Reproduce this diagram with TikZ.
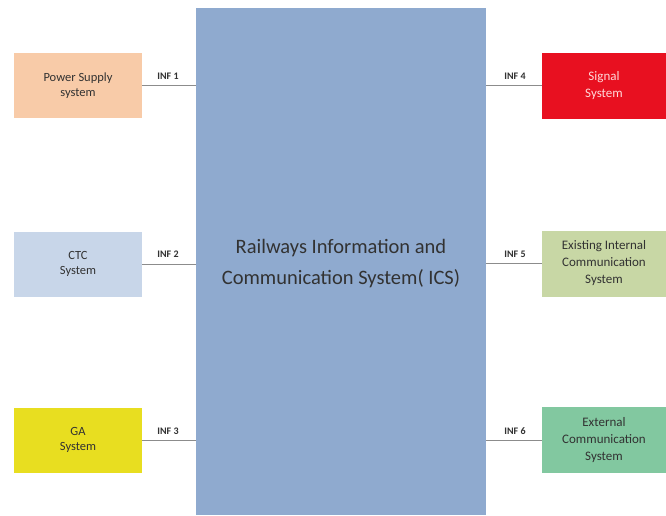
\documentclass[tikz,border=0pt]{standalone}
\usepackage{fontspec}
\setmainfont{Carlito}
\definecolor{icsblue}{RGB}{143,170,207}
\definecolor{peach}{RGB}{248,203,168}
\definecolor{ctcblue}{RGB}{200,214,233}
\definecolor{gayellow}{RGB}{232,222,32}
\definecolor{sigred}{RGB}{232,16,32}
\definecolor{olive}{RGB}{200,215,165}
\definecolor{mint}{RGB}{130,200,160}
\definecolor{txt}{RGB}{50,50,50}
\begin{document}
\begin{tikzpicture}[x=1pt,y=-1pt,
  sysbox/.style={minimum width=128pt,minimum height=65pt,align=center,inner sep=2pt,text=txt,font=\fontsize{12.5}{15}\selectfont},
  rbox/.style={minimum width=124pt,minimum height=66pt,align=center,inner sep=2pt,text=txt,font=\fontsize{13}{17}\selectfont},
  link/.style={draw=black!45,line width=0.5pt},
  inf/.style={font=\fontsize{10}{11}\selectfont\bfseries,text=txt,inner sep=1pt}]
\useasboundingbox (0,0) rectangle (666,515);
\fill[white] (0,0) rectangle (666,515);
% central box
\node[fill=icsblue,minimum width=290pt,minimum height=507pt,inner sep=0pt,anchor=north west] (ics) at (196,8) {};
\node[text=txt,align=center,font=\fontsize{20.5}{31}\selectfont] (icstext) at (341,264) {Railways Information and\\Communication System( ICS)};
% left boxes
\node[sysbox,fill=peach] (power) at (78,85.5) {Power Supply\\system};
\node[sysbox,fill=ctcblue] (ctc) at (78,264) {CTC\\System};
\node[sysbox,fill=gayellow] (ga) at (78,440) {GA\\System};
% right boxes
\node[rbox,fill=sigred,text=white!85!red] (signal) at (604,85.5) {Signal\\System};
\node[rbox,fill=olive] (exist) at (604,263.5) {Existing Internal\\Communication\\System};
\node[rbox,fill=mint] (ext) at (604,440) {External\\Communication\\System};
% connectors
\draw[link] (power.east) -- (power.east -| ics.west);
\draw[link] (ctc.east) -- (ctc.east -| ics.west);
\draw[link] (ga.east) -- (ga.east -| ics.west);
\draw[link] (signal.west) -- (signal.west -| ics.east);
\draw[link] (exist.west) -- (exist.west -| ics.east);
\draw[link] (ext.west) -- (ext.west -| ics.east);
% labels
\node[inf] (l1) at (168,76) {INF 1};
\node[inf] (l2) at (168,254) {INF 2};
\node[inf] (l3) at (168,431) {INF 3};
\node[inf] (l4) at (515,76) {INF 4};
\node[inf] (l5) at (515,254) {INF 5};
\node[inf] (l6) at (515,431) {INF 6};
\end{tikzpicture}
\end{document}
